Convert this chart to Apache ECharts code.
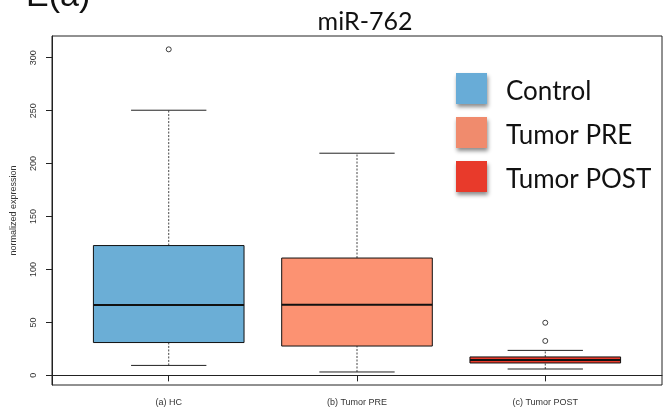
<!DOCTYPE html>
<html>
<head>
<meta charset="utf-8">
<script src="https://cdn.jsdelivr.net/npm/echarts@6/dist/echarts.min.js"></script>
<style>
html,body{margin:0;padding:0;background:#fff;}
#chart{width:667px;height:416px;}
</style>
</head>
<body>
<div id="chart"></div>
<script>
// Data
const categories = ['(a) HC', '(b) Tumor PRE', '(c) Tumor POST'];
const groupNames = ['Control', 'Tumor PRE', 'Tumor POST'];
// [whiskerLow, Q1, median, Q3, whiskerHigh]
const hcStats = [9.4, 31.0, 66.4, 122.6, 250.4];
const preStats = [3.2, 27.7, 66.7, 110.8, 209.8];
const postStats = [6.0, 11.7, 14.5, 17.4, 23.6];
const outliers = [[1, 307.9], [3, 49.7], [3, 32.5]];
const yTicks = [0, 50, 100, 150, 200, 250, 300];
const xTicks = [1, 2, 3];

const boxColors = ['#6BAED6', '#FC9272', '#EA3B2B'];
const legendColors = ['#68ACD7', '#F08B6D', '#E83A2B'];

const allStats = [hcStats, preStats, postStats];

function renderBox(params, api) {
  const x = api.value(0);
  const lo = api.value(1), q1 = api.value(2), med = api.value(3), q3 = api.value(4), hi = api.value(5);
  const boxW = api.size([0.8, 0])[0];
  const capW = api.size([0.4, 0])[0];
  const pLo = api.coord([x, lo]), pQ1 = api.coord([x, q1]), pMed = api.coord([x, med]);
  const pQ3 = api.coord([x, q3]), pHi = api.coord([x, hi]);
  const cx = pMed[0];
  const color = api.visual('color');
  const dash = { stroke: '#444', lineWidth: 1, lineDash: [2, 1.5] };
  const solid = { stroke: '#222', lineWidth: 1 };
  return {
    type: 'group',
    children: [
      { type: 'line', shape: { x1: cx, y1: pQ3[1], x2: cx, y2: pHi[1] }, style: dash },
      { type: 'line', shape: { x1: cx, y1: pLo[1], x2: cx, y2: pQ1[1] }, style: dash },
      { type: 'line', shape: { x1: cx - capW / 2, y1: pHi[1], x2: cx + capW / 2, y2: pHi[1] }, style: solid },
      { type: 'line', shape: { x1: cx - capW / 2, y1: pLo[1], x2: cx + capW / 2, y2: pLo[1] }, style: solid },
      { type: 'rect', shape: { x: cx - boxW / 2, y: pQ3[1], width: boxW, height: pQ1[1] - pQ3[1] },
        style: { fill: color, stroke: '#111', lineWidth: 1 } },
      { type: 'line', shape: { x1: cx - boxW / 2, y1: pMed[1], x2: cx + boxW / 2, y2: pMed[1] },
        style: { stroke: '#111', lineWidth: 2 } }
    ]
  };
}

const series = allStats.map((s, i) => ({
  name: groupNames[i],
  type: 'custom',
  renderItem: renderBox,
  itemStyle: { color: boxColors[i] },
  encode: { x: 0, y: [1, 2, 3, 4, 5] },
  data: [[xTicks[i]].concat(s)],
  z: 2
}));
series.push({
  name: 'outliers',
  type: 'scatter',
  symbol: 'circle',
  symbolSize: 5,
  itemStyle: { color: '#fff', borderColor: '#111', borderWidth: 1 },
  data: outliers,
  z: 3
});

const chart = echarts.init(document.getElementById('chart'), null, { renderer: 'canvas' });
chart.setOption({
  animation: false,
  backgroundColor: '#fff',
  title: {
    text: 'miR-762',
    left: 360,
    textAlign: 'center',
    top: 4,
    textStyle: { fontFamily: 'Lato', fontWeight: 'normal', fontSize: 25, color: '#111' }
  },
  graphic: [{
    type: 'text',
    left: 26,
    top: -20,
    style: { text: 'E(a)', font: '34px "Liberation Sans"', fill: '#111' }
  }],
  legend: {
    data: groupNames.map((n, i) => ({
      name: n,
      itemStyle: { color: legendColors[i], shadowBlur: 4, shadowColor: 'rgba(0,0,0,0.45)', shadowOffsetX: 1, shadowOffsetY: 3 }
    })),
    orient: 'vertical',
    left: 456,
    top: 73,
    padding: 0,
    itemWidth: 31,
    itemHeight: 31,
    itemGap: 12,
    icon: 'rect',
    selectedMode: false,
    formatter: '{t|{name}}',
    textStyle: {
      fontFamily: 'Lato', fontSize: 26, color: '#111', padding: [0, 0, 0, 14],
      rich: { t: { fontFamily: 'Lato', fontSize: 26, color: '#111', lineHeight: 33, verticalAlign: 'bottom' } }
    }
  },
  grid: {
    left: 52, right: 5, top: 36, bottom: 31,
    show: true, borderColor: '#222', borderWidth: 1, backgroundColor: 'transparent'
  },
  xAxis: {
    type: 'value',
    min: 0.38, max: 3.62,
    splitLine: { show: false },
    axisLine: { show: true, lineStyle: { color: '#222' } },
    axisTick: { show: true, length: 6, customValues: xTicks, lineStyle: { color: '#222' } },
    axisLabel: {
      customValues: xTicks,
      formatter: v => categories[Math.round(v) - 1],
      fontFamily: 'Liberation Sans', fontSize: 9, color: '#333', margin: 13
    }
  },
  yAxis: {
    type: 'value',
    min: -9.1, max: 320.5,
    name: 'normalized expression',
    nameLocation: 'middle',
    nameRotate: 90,
    nameGap: 34,
    nameTextStyle: { fontFamily: 'Liberation Sans', fontSize: 9, color: '#333' },
    splitLine: { show: false },
    axisLine: { show: true, lineStyle: { color: '#222' } },
    axisTick: { show: true, length: 6, customValues: yTicks, lineStyle: { color: '#222' } },
    axisLabel: {
      customValues: yTicks,
      rotate: 90,
      fontFamily: 'Liberation Sans', fontSize: 9, color: '#333', margin: 14
    }
  },
  series: series
});
</script>
</body>
</html>
